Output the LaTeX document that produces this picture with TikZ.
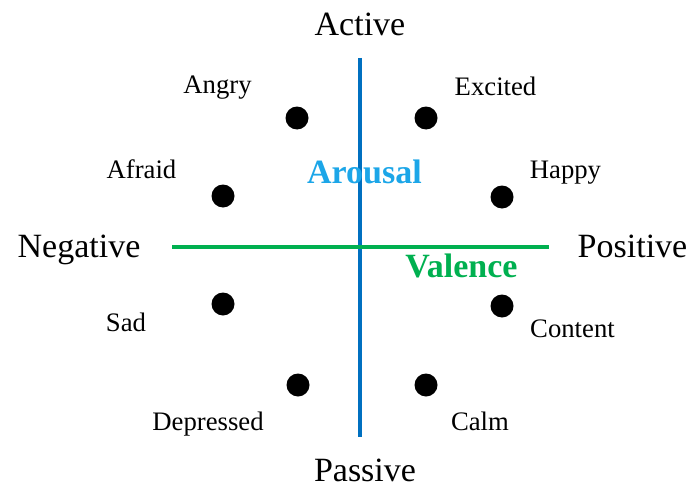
\documentclass[tikz,border=0pt]{standalone}
\usepackage{fontspec}
\setmainfont{Liberation Serif}
\definecolor{arousalline}{HTML}{0070C0}
\definecolor{arousaltext}{HTML}{1CA6E8}
\definecolor{valgreen}{HTML}{00B050}
\begin{document}
\begin{tikzpicture}[x=1pt,y=-1pt,
  axislabel/.style={anchor=base,inner sep=0pt,font=\fontsize{34}{40}\selectfont},
  emolabel/.style={anchor=base,inner sep=0pt,font=\fontsize{26.7}{32}\selectfont},
  axisname/.style={anchor=base,inner sep=0pt,font=\fontsize{34}{40}\selectfont\bfseries},
  emodot/.style={circle,fill=black,inner sep=0pt,minimum size=23pt}]
\useasboundingbox (0,0) rectangle (693,487);
% axes
\coordinate (vtop) at (360,58);
\coordinate (vbot) at (360,437);
\coordinate (hl) at (172,247);
\coordinate (hr) at (549,247);
\draw[arousalline,line width=3.5pt] (vtop) -- (vbot);
\draw[valgreen,line width=3.5pt] (hl) -- (hr);
% axis labels
\node[axislabel] (active) at (360,36) {Active};
\node[axislabel,text depth=0pt] (passive) at (365,481.5) {Passive};
\node[axislabel] (negative) at (79,257.5) {Negative};
\node[axislabel] (positive) at (632.5,257) {Positive};
\node[axisname,text=arousaltext] (arousal) at (364.5,183) {Arousal};
\node[axisname,text=valgreen] (valence) at (461.5,277) {Valence};
% dots
\node[emodot] (dangry) at (297,118) {};
\node[emodot] (dexcited) at (426,118) {};
\node[emodot] (dafraid) at (223,196) {};
\node[emodot] (dhappy) at (502,197) {};
\node[emodot] (dsad) at (223,304) {};
\node[emodot] (dcontent) at (502,306) {};
\node[emodot] (ddepressed) at (298,385) {};
\node[emodot] (dcalm) at (426,385) {};
% emotion labels
\node[emolabel] (angry) at (217.5,93) {Angry};
\node[emolabel] (excited) at (495.5,95) {Excited};
\node[emolabel] (afraid) at (141.5,178) {Afraid};
\node[emolabel] (happy) at (565.5,178) {Happy};
\node[emolabel] (sad) at (126,331) {Sad};
\node[emolabel] (content) at (572.5,337) {Content};
\node[emolabel] (depressed) at (208,430) {Depressed};
\node[emolabel] (calm) at (480,430) {Calm};
\end{tikzpicture}
\end{document}
